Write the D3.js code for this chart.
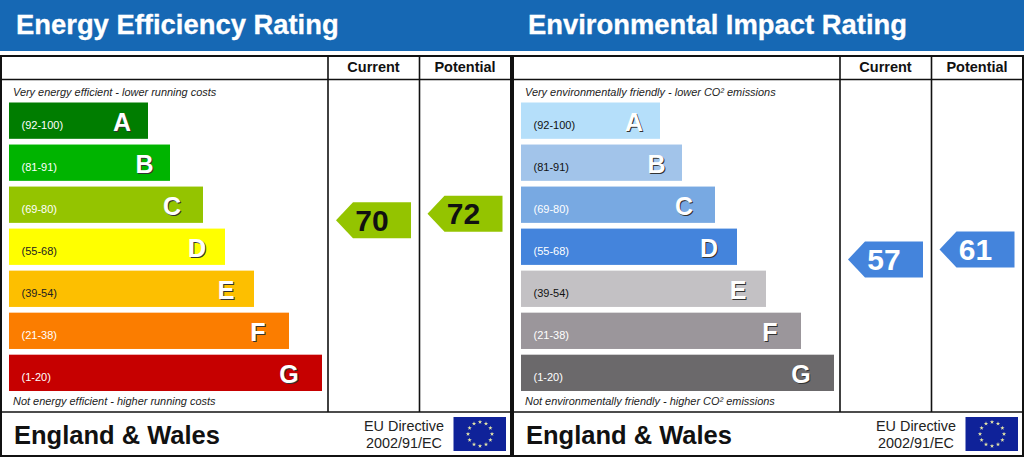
<!DOCTYPE html>
<html>
<head>
<meta charset="utf-8">
<script src="https://cdn.jsdelivr.net/npm/d3@7"></script>
<style>
    html, body { margin: 0; padding: 0; background: #fff; }
    svg { display: block; }
    text { font-family: "Liberation Sans", Arial, sans-serif; }
</style>
</head>
<body>
<div id="chart"></div>
<script>
// Values
var bands = ["A", "B", "C", "D", "E", "F", "G"]
var ranges = ["(92-100)", "(81-91)", "(69-80)", "(55-68)", "(39-54)", "(21-38)", "(1-20)"]
var barLengths = [139, 161, 194, 216, 245, 280, 313]

var energyColors = ["#007d00", "#00b400", "#94c400", "#ffff00", "#fdbf00", "#fb7d00", "#c60000"]
var energyRangeColors = ["#fff", "#fff", "#fff", "#222", "#222", "#fff", "#fff"]
var impactColors = ["#b5dffa", "#a2c4ea", "#78a9e2", "#4484dc", "#c3c1c4", "#9b969b", "#6b696b"]
var impactRangeColors = ["#111", "#111", "#fff", "#fff", "#111", "#fff", "#fff"]

var energyScores = [70, 72]
var impactScores = [57, 61]
var columns = ["Current", "Potential"]

var energyColor = "#94c400"
var impactColor = "#4484dc"

var width = 1024
var height = 457

// How far each letter sits in from the end of its bar
var letterInset = [26, 25.5, 31, 28, 28, 31, 33]

const svg = d3.select("#chart")
              .append("svg")
              .attr("width", width)
              .attr("height", height)

// Blue title strip
svg.append("rect")
   .attr("width", width)
   .attr("height", 51)
   .attr("fill", "#1668b4")

// Scales shared by both panels
var yBand = d3.scaleBand()
              .domain(bands)
              .range([102.5, 391])
              .paddingInner(0.136)
              .paddingOuter(0)

var xLength = d3.scaleLinear()
                .domain([0, 313])
                .range([0, 313])

var yScore = d3.scaleLinear()
               .domain([57, 61, 70, 72])
               .range([259.5, 249.5, 220.3, 213.7])

var xColumn = d3.scaleOrdinal()
                .domain(columns)
                .range([328, 419.5])

function drawPanel(x0, opts){
    const g = svg.append("g").attr("transform", "translate(" + x0 + ",0)")

    g.append("text")
     .attr("x", 16)
     .attr("y", 34)
     .attr("font-size", 27.4)
     .attr("font-weight", "bold")
     .attr("fill", "#fff")
     .attr("stroke", "#fff")
     .attr("stroke-width", 0.3)
     .text(opts.title)

    // Frame and grid lines
    g.append("rect")
     .attr("x", 1).attr("y", 56)
     .attr("width", 510).attr("height", 400)
     .attr("fill", "#fff")
     .attr("stroke", "#111")
     .attr("stroke-width", 2)

    var lines = [
        [1, 79.5, 511, 79.5],
        [1, 412, 511, 412],
        [328, 56, 328, 412],
        [419.5, 56, 419.5, 412]
    ]
    g.selectAll("gridLines")
     .data(lines)
     .enter()
     .append("line")
     .attr("x1", (d) => d[0])
     .attr("y1", (d) => d[1])
     .attr("x2", (d) => d[2])
     .attr("y2", (d) => d[3])
     .attr("stroke", "#111")
     .attr("stroke-width", 1.6)

    g.selectAll("columnHeads")
     .data(columns)
     .enter()
     .append("text")
     .attr("x", (d) => xColumn(d) + 45.5)
     .attr("y", 72)
     .attr("text-anchor", "middle")
     .attr("font-size", 14.5)
     .attr("font-weight", "bold")
     .attr("fill", "#111")
     .text((d) => d)

    g.append("text")
     .attr("x", 13).attr("y", 96)
     .attr("font-size", 10.95)
     .attr("font-style", "italic")
     .attr("fill", "#222")
     .text(opts.topNote)

    g.append("text")
     .attr("x", 13).attr("y", 405)
     .attr("font-size", 10.95)
     .attr("font-style", "italic")
     .attr("fill", "#222")
     .text(opts.bottomNote)

    // Rating bars
    g.selectAll("bars")
     .data(bands)
     .enter()
     .append("rect")
     .attr("x", 9)
     .attr("y", (d) => yBand(d))
     .attr("width", (d, i) => xLength(barLengths[i]))
     .attr("height", yBand.bandwidth())
     .attr("fill", (d, i) => opts.colors[i])

    g.selectAll("rangeLabels")
     .data(ranges)
     .enter()
     .append("text")
     .attr("x", 21.5)
     .attr("y", (d, i) => yBand(bands[i]) + 26.2)
     .attr("font-size", 11)
     .attr("fill", (d, i) => opts.rangeColors[i])
     .text((d) => d)

    // Band letters: dark copy underneath gives the drop shadow
    g.selectAll("letterShadows")
     .data(bands)
     .enter()
     .append("text")
     .attr("x", (d, i) => 9 + xLength(barLengths[i]) - letterInset[i] + 1)
     .attr("y", (d) => yBand(d) + 28 + 1)
     .attr("text-anchor", "middle")
     .attr("font-size", 25)
     .attr("font-weight", "bold")
     .attr("fill", "#333")
     .text((d) => d)

    g.selectAll("letters")
     .data(bands)
     .enter()
     .append("text")
     .attr("x", (d, i) => 9 + xLength(barLengths[i]) - letterInset[i])
     .attr("y", (d) => yBand(d) + 28)
     .attr("text-anchor", "middle")
     .attr("font-size", 25)
     .attr("font-weight", "bold")
     .attr("fill", "#fff")
     .text((d) => d)

    // Score pointers
    var pointer = d3.line()
    g.selectAll("pointers")
     .data(opts.scores)
     .enter()
     .append("path")
     .attr("d", function(d, i){
         var left = xColumn(columns[i]) + 8
         var y = yScore(d)
         return pointer([[left, y], [left + 17, y - 18], [left + 75, y - 18],
                         [left + 75, y + 18], [left + 17, y + 18]]) + "Z"
     })
     .attr("fill", opts.pointerColor)

    g.selectAll("scoreLabels")
     .data(opts.scores)
     .enter()
     .append("text")
     .attr("x", (d, i) => xColumn(columns[i]) + 44)
     .attr("y", (d) => yScore(d) + 10.3)
     .attr("text-anchor", "middle")
     .attr("font-size", 30)
     .attr("font-weight", "bold")
     .attr("fill", opts.scoreColor)
     .text((d) => d)

    // Footer
    g.append("text")
     .attr("x", 14).attr("y", 444)
     .attr("font-size", 25.5)
     .attr("font-weight", "bold")
     .attr("fill", "#111")
     .text("England & Wales")

    g.append("text")
     .attr("x", 404).attr("y", 431)
     .attr("text-anchor", "middle")
     .attr("font-size", 14.4)
     .attr("fill", "#222")
     .text("EU Directive")

    g.append("text")
     .attr("x", 404).attr("y", 448)
     .attr("text-anchor", "middle")
     .attr("font-size", 14.4)
     .attr("fill", "#222")
     .text("2002/91/EC")

    // EU flag
    g.append("rect")
     .attr("x", 453.5).attr("y", 417)
     .attr("width", 52.5).attr("height", 34)
     .attr("fill", "#0f2299")

    var star = d3.symbol().type(d3.symbolStar).size(6)
    g.selectAll("flagStars")
     .data(d3.range(12))
     .enter()
     .append("path")
     .attr("d", star)
     .attr("transform", function(d){
         var a = d / 12 * 2 * Math.PI
         return "translate(" + (480 + 12 * Math.sin(a)) + "," + (434 - 12 * Math.cos(a)) + ")"
     })
     .attr("fill", "#e6e6a8")
}

drawPanel(0, {
    title: "Energy Efficiency Rating",
    topNote: "Very energy efficient - lower running costs",
    bottomNote: "Not energy efficient - higher running costs",
    colors: energyColors,
    rangeColors: energyRangeColors,
    scores: energyScores,
    pointerColor: energyColor,
    scoreColor: "#111"
})

drawPanel(512, {
    title: "Environmental Impact Rating",
    topNote: "Very environmentally friendly - lower CO\u00b2 emissions",
    bottomNote: "Not environmentally friendly - higher CO\u00b2 emissions",
    colors: impactColors,
    rangeColors: impactRangeColors,
    scores: impactScores,
    pointerColor: impactColor,
    scoreColor: "#fff"
})
</script>
</body>
</html>
